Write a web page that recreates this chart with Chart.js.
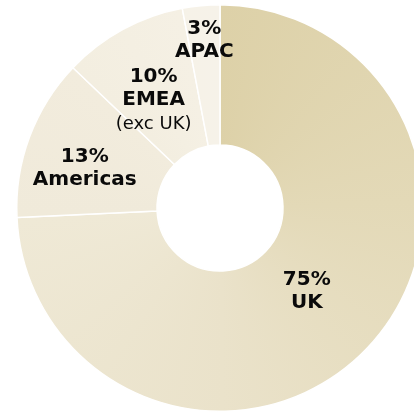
<!DOCTYPE html>
<html><head><meta charset="utf-8">
<script src="https://cdn.jsdelivr.net/npm/chart.js@4"></script>
<style>
html,body{margin:0;padding:0;background:#fff;overflow:hidden;width:414px;height:414px}
#wrap{position:absolute;left:0;top:0;width:440px;height:416px}
</style></head><body>
<div id="wrap"><canvas id="c"></canvas></div>
<script>
const categories = ["UK", "Americas", "EMEA", "APAC"];
const shares = [75, 13, 10, 3];
const pctLabels = ["75%", "13%", "10%", "3%"];
const subLabels = ["", "", "(exc UK)", ""];

// label placement (radius px from centre, angle tweak in degrees)
const labelPlace = [
  {r: 120, da: 0},
  {r: 141, da: -4},
  {r: 127, da: -3},
  {r: 168, da: 0}
];

function bg(ctx) {
  const chart = ctx.chart;
  const area = chart.chartArea;
  if (!area || !isFinite(area.left)) return '#e6dcc0';
  const x = (area.left + area.right) / 2, y = (area.top + area.bottom) / 2;
  const g = chart.ctx.createConicGradient(-Math.PI / 2, x, y);
  const tot = shares.reduce((a, b) => a + b, 0);
  const e1 = shares[0] / tot, e2 = (shares[0] + shares[1]) / tot, e3 = (shares[0] + shares[1] + shares[2]) / tot;
  g.addColorStop(0, '#ddd1a8');
  g.addColorStop(e1 * 0.33, '#e3d9b7');
  g.addColorStop(e1 * 0.67, '#eae2ca');
  g.addColorStop(e1 - 0.002, '#efe9d6');
  g.addColorStop(e1 + 0.002, '#f0eada');
  g.addColorStop(e2 - 0.002, '#f2ecdd');
  g.addColorStop(e2 + 0.002, '#f3eee0');
  g.addColorStop(e3 - 0.002, '#f5f0e4');
  g.addColorStop(e3 + 0.002, '#f6f2e8');
  g.addColorStop(1, '#f6f2e9');
  return g;
}

const labelPlugin = {
  id: 'segLabels',
  afterDatasetsDraw(chart) {
    const ctx = chart.ctx;
    const meta = chart.getDatasetMeta(0);
    ctx.save();
    ctx.fillStyle = '#0a0a0a';
    ctx.textAlign = 'center';
    ctx.textBaseline = 'middle';
    meta.data.forEach((arc, i) => {
      const p = labelPlace[i];
      const mid = (arc.startAngle + arc.endAngle) / 2 + p.da * Math.PI / 180;
      const lines = [{t: pctLabels[i], b: true}, {t: categories[i], b: true}];
      if (subLabels[i]) lines.push({t: subLabels[i], b: false});
      const lh = 23;
      const cx = arc.x + Math.cos(mid) * p.r;
      const cy = arc.y + Math.sin(mid) * p.r;
      const y0 = cy - (lines.length - 1) * lh / 2;
      lines.forEach((l, k) => {
        ctx.font = l.b ? 'bold 20px "DejaVu Sans", sans-serif' : '18px "DejaVu Sans", sans-serif';
        ctx.fillText(l.t, cx, y0 + k * lh + (l.b ? 0 : 2));
      });
    });
    ctx.restore();
  }
};

new Chart(document.getElementById('c'), {
  type: 'doughnut',
  data: {
    labels: categories,
    datasets: [{
      data: shares,
      backgroundColor: bg,
      borderColor: '#ffffff',
      borderWidth: 1.5
    }]
  },
  options: {
    responsive: true,
    maintainAspectRatio: false,
    animation: false,
    cutout: '31%',
    layout: {padding: 4},
    plugins: {legend: {display: false}, tooltip: {enabled: false}}
  },
  plugins: [labelPlugin]
});
</script>
</body></html>
